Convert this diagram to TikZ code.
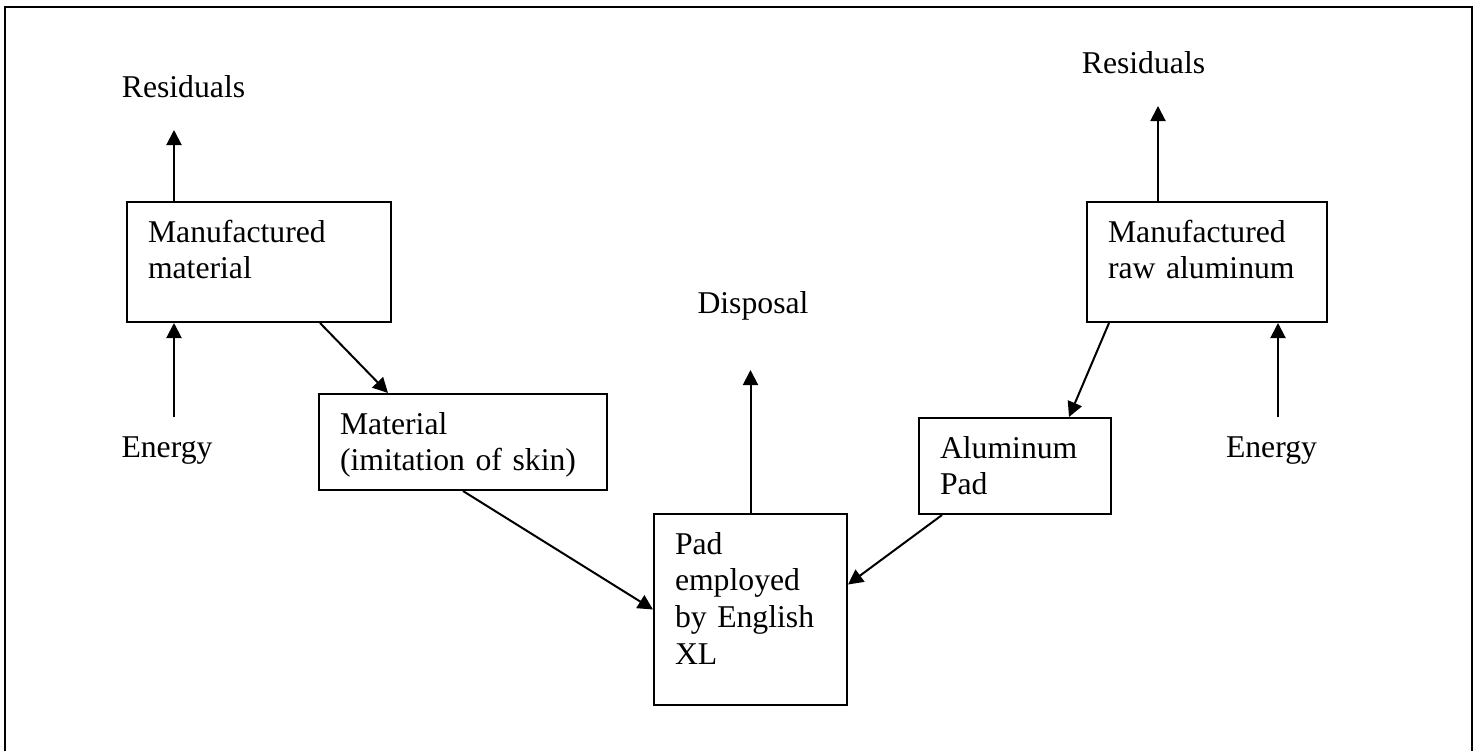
\documentclass[tikz,border=0pt]{standalone}
\usepackage{fontspec}
\setmainfont{Liberation Serif}
\usepackage{tikz}
\usetikzlibrary{arrows.meta}

\begin{document}
\begin{tikzpicture}[
  x=0.5pt, y=-0.5pt,
  >={Triangle[length=7.5pt, width=7.5pt]},
  every node/.style={font=\fontsize{15.85}{18.35}\selectfont},
  box/.style={draw, line width=1pt, anchor=north west, align=left,
              inner xsep=10.5pt, inner ysep=0pt, text height=20pt},
  lbl/.style={inner sep=0pt, anchor=base},
  arr/.style={->, line width=1pt},
  frame/.style={line width=1pt}
]
\useasboundingbox (0,0) rectangle (1478,751);

%--- Outer frame ---
\draw[frame] (5,751) -- (5,7) -- (1472,7) -- (1472,751);

%--- Boxes ---
\node[box, text width=111pt, text depth=40pt] (mfgmat) at (126,201) {Manufactured\\material};
\node[box, text width=123pt, text depth=28pt] (material) at (318,393) {Material\\(imitation of skin)};
\node[box, text width=75.5pt, text depth=75.5pt] (pad) at (653,513) {Pad\\employed\\by English\\XL};
\node[box, text width=75pt, text depth=28pt] (alpad) at (918,417) {Aluminum\\Pad};
\node[box, text width=99pt, text depth=40pt] (rawal) at (1086,201) {Manufactured\\raw aluminum};

%--- Free labels ---
\node[lbl] (resL) at (183.5,97) {Residuals};
\node[lbl] (energyL) at (167,457) {Energy};
\node[lbl] (disposal) at (753,313) {Disposal};
\node[lbl] (resR) at (1143.5,73) {Residuals};
\node[lbl] (energyR) at (1271.5,457) {Energy};

%--- Free arrow ends ---
\coordinate (resLend) at (174,130);
\coordinate (enLstart) at (174,417);
\coordinate (dispend) at (750,370);
\coordinate (resRend) at (1158,106);
\coordinate (enRstart) at (1278,417);

%--- Left branch ---
\draw[arr] (mfgmat.north -| resLend) -- (resLend);
\draw[arr] (enLstart) -- (enLstart |- mfgmat.south);
\draw[arr] ([xshift=-36pt]mfgmat.south east) -- ([xshift=35pt]material.north west);
\draw[arr] (material.south) -- (pad.west);

%--- Disposal ---
\draw[arr] (pad.north) -- (pad.north |- dispend);

%--- Right branch ---
\draw[arr] (rawal.north -| resRend) -- (resRend);
\draw[arr] (enRstart) -- (enRstart |- rawal.south);
\draw[arr] ([xshift=11.5pt]rawal.south west) -- ([xshift=-21.5pt]alpad.north east);
\draw[arr] ([xshift=12pt]alpad.south west) -- ([yshift=12.5pt]pad.east);

\end{tikzpicture}
\end{document}
